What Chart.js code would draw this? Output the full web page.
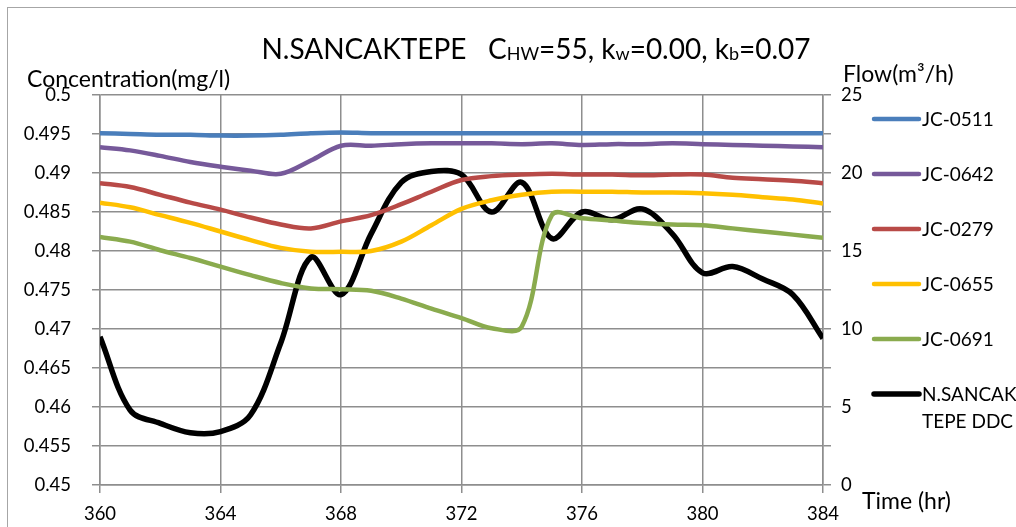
<!DOCTYPE html>
<html>
<head>
<meta charset="utf-8">
<script src="https://cdn.jsdelivr.net/npm/chart.js@4.4.0/dist/chart.umd.min.js"></script>
<style>
  html, body { margin: 0; padding: 0; background: #fff; }
  #wrap { width: 1016px; height: 527px; position: relative; }
</style>
</head>
<body>
<div id="wrap"><canvas id="myChart"></canvas></div>
<script>
// hours on the x axis
var hours = [360, 361, 362, 363, 364, 365, 366, 367, 368, 369, 370, 371, 372,
             373, 374, 375, 376, 377, 378, 379, 380, 381, 382, 383, 384];

// concentrations (mg/l), left axis
var jc0511 = [0.4951, 0.4950, 0.4949, 0.4949, 0.4948, 0.4948, 0.4949, 0.4951, 0.4952, 0.4951, 0.4951, 0.4951, 0.4951,
              0.4951, 0.4951, 0.4951, 0.4951, 0.4951, 0.4951, 0.4951, 0.4951, 0.4951, 0.4951, 0.4951, 0.4951];
var jc0642 = [0.4933, 0.4929, 0.4922, 0.4914, 0.4908, 0.4903, 0.4899, 0.4916, 0.4935, 0.4935, 0.4937, 0.4938, 0.4938,
              0.4938, 0.4937, 0.4938, 0.4936, 0.4937, 0.4937, 0.4938, 0.4937, 0.4936, 0.4935, 0.4934, 0.4933];
var jc0279 = [0.4887, 0.4882, 0.4872, 0.4862, 0.4853, 0.4843, 0.4834, 0.4829, 0.4838, 0.4846, 0.4860, 0.4876, 0.4891,
              0.4896, 0.4898, 0.4899, 0.4898, 0.4898, 0.4897, 0.4898, 0.4898, 0.4894, 0.4892, 0.4890, 0.4887];
var jc0655 = [0.4862, 0.4856, 0.4846, 0.4836, 0.4825, 0.4814, 0.4804, 0.4799, 0.4799, 0.4800, 0.4812, 0.4833, 0.4854,
              0.4865, 0.4872, 0.4876, 0.4876, 0.4876, 0.4875, 0.4875, 0.4874, 0.4872, 0.4869, 0.4866, 0.4861];
var jc0691 = [0.4818, 0.4812, 0.4801, 0.4791, 0.4780, 0.4769, 0.4759, 0.4752, 0.4751, 0.4749, 0.4739, 0.4726, 0.4714,
              0.4701, 0.4703, 0.4846, 0.4842, 0.4839, 0.4836, 0.4834, 0.4833, 0.4829, 0.4825, 0.4821, 0.4817];

// flow (m3/h), right axis
var flowDDC = [9.5, 4.8, 3.95, 3.35, 3.42, 4.5, 9.1, 14.6, 12.2, 16.1, 19.4, 20.1, 19.9,
               17.5, 19.4, 15.8, 17.5, 17.0, 17.7, 16.1, 13.6, 14.0, 13.2, 12.2, 9.4];

var seriesNames = ['JC-0511', 'JC-0642', 'JC-0279', 'JC-0655', 'JC-0691', 'N.SANCAKTEPE DDC'];
var legendText = [['JC-0511'], ['JC-0642'], ['JC-0279'], ['JC-0655'], ['JC-0691'], ['N.SANCAK', 'TEPE DDC']];
var seriesColors = ['#4a7ebb', '#76599a', '#b84a47', '#ffc000', '#8aab4e', '#000000'];

var FONT = 'Lato, "Open Sans", sans-serif';
var GRID = '#8e8e8e';

function pts(vals){
  return hours.map(function(h, i){ return {x: h, y: vals[i]}; });
}

function ds(i, vals, axis, width){
  return {
    label: seriesNames[i],
    data: pts(vals),
    yAxisID: axis,
    borderColor: seriesColors[i],
    backgroundColor: seriesColors[i],
    borderWidth: width,
    pointRadius: 0,
    tension: 0.35,
    fill: false
  };
}

var textPlugin = {
  id: 'texts',
  afterDraw: function(chart){
    var ctx = chart.ctx;
    ctx.save();
    // outer frame
    ctx.strokeStyle = '#a6a6a6';
    ctx.lineWidth = 1;
    ctx.strokeRect(7.5, 7.5, 1100, 600);

    ctx.fillStyle = '#000';
    ctx.textBaseline = 'alphabetic';
    ctx.textAlign = 'left';

    // title with subscripts
    var parts = [
      ['N.SANCAKTEPE   C', false], ['HW', true], ['=55, k', false], ['w', true],
      ['=0.00, k', false], ['b', true], ['=0.07', false]
    ];
    var big = '28px ' + FONT, small = '18px ' + FONT;
    var total = 0;
    parts.forEach(function(p){ ctx.font = p[1] ? small : big; total += ctx.measureText(p[0]).width; });
    var x = 536 - total / 2;
    parts.forEach(function(p){
      ctx.font = p[1] ? small : big;
      ctx.fillText(p[0], x, p[1] ? 60 : 59);
      x += ctx.measureText(p[0]).width;
    });

    // axis titles
    ctx.font = '23px ' + FONT;
    ctx.fillText('Concentration(mg/l)', 27, 87);
    ctx.fillText('Flow(m\u00b3/h)', 843, 82);
    ctx.fillText('Time (hr)', 862, 509);

    // legend
    ctx.font = '19px ' + FONT;
    ctx.textBaseline = 'middle';
    ctx.lineCap = 'round';
    var y0 = 119, step = 55;
    legendText.forEach(function(lines, i){
      var y = y0 + i * step;
      ctx.strokeStyle = seriesColors[i];
      ctx.lineWidth = i === 5 ? 5.5 : 4.5;
      ctx.beginPath();
      ctx.moveTo(874, y);
      ctx.lineTo(919, y);
      ctx.stroke();
      lines.forEach(function(t, k){
        ctx.fillText(t, 922, y + 1 + k * 27);
      });
    });
    ctx.restore();
  }
};

var ctx = document.getElementById('myChart').getContext('2d');
var myChart = new Chart(ctx, {
  type: 'line',
  data: {
    datasets: [
      ds(0, jc0511, 'y', 4.5),
      ds(1, jc0642, 'y', 4.5),
      ds(2, jc0279, 'y', 4.5),
      ds(3, jc0655, 'y', 4.5),
      ds(4, jc0691, 'y', 4.5),
      ds(5, flowDDC, 'y2', 5.5)
    ]
  },
  options: {
    responsive: true,
    maintainAspectRatio: false,
    animation: false,
    layout: { padding: { top: 95, right: 133, left: 0, bottom: 0 } },
    plugins: {
      legend: { display: false },
      title: { display: false },
      tooltip: { enabled: false }
    },
    scales: {
      x: {
        type: 'linear',
        min: 360, max: 384,
        afterFit: function(s){ s.height = 42; },
        ticks: { stepSize: 4, color: '#000', font: { family: FONT, size: 18.5 }, padding: 10, maxRotation: 0 },
        grid: { color: GRID, lineWidth: 1.5, tickLength: 8 },
        border: { color: GRID, width: 1.5 }
      },
      y: {
        position: 'left',
        min: 0.45, max: 0.5,
        afterFit: function(s){ s.width = 100; },
        ticks: {
          stepSize: 0.005, color: '#000', font: { family: FONT, size: 18.5 }, padding: 21,
          callback: function(v){ return String(parseFloat(v.toFixed(3))); }
        },
        grid: { color: GRID, lineWidth: 1.5, tickLength: 8 },
        border: { color: GRID, width: 1.5 }
      },
      y2: {
        position: 'right',
        min: 0, max: 25,
        afterFit: function(s){ s.width = 60; },
        ticks: {
          stepSize: 2.5, color: '#000', font: { family: FONT, size: 18.5 }, padding: 10,
          callback: function(v){ return v % 5 === 0 ? String(v) : ''; }
        },
        grid: { drawOnChartArea: false, color: GRID, lineWidth: 1.5, tickLength: 8 },
        border: { color: GRID, width: 1.5 }
      }
    }
  },
  plugins: [textPlugin]
});
</script>
</body>
</html>
